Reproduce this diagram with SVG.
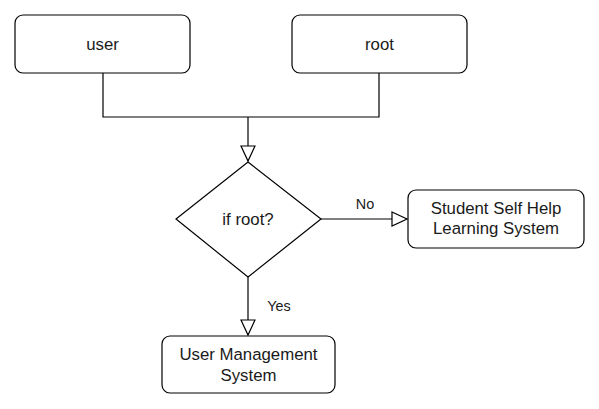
<svg xmlns="http://www.w3.org/2000/svg" width="599" height="409" viewBox="0 0 599 409">
<style>
.box{fill:#fff;stroke:#000;stroke-width:1.2}
.t{font-family:"Liberation Sans",Arial,sans-serif;font-size:16.8px;fill:#1a1a1a;text-anchor:middle}
.l{font-family:"Liberation Sans",Arial,sans-serif;font-size:14.4px;fill:#1a1a1a;text-anchor:middle}
.c{fill:none;stroke:#000;stroke-width:1.2}
</style>
<defs>
<marker id="arr" markerUnits="userSpaceOnUse" markerWidth="20" markerHeight="20" viewBox="-16 -10 20 20" refX="0" refY="0" orient="auto">
<path d="M-15,-7 L0,0 L-15,7 Z" fill="#fff" stroke="#000" stroke-width="1.2"/>
</marker>
</defs>
<rect width="599" height="409" fill="#fff"/>
<g id="connectors">
<path class="c" d="M103,73 V117 H379 V73"/>
<path class="c" d="M248,117 V161" marker-end="url(#arr)"/>
<path class="c" d="M321,219 H407" marker-end="url(#arr)"/>
<text class="l" x="365" y="209">No</text>
<path class="c" d="M248,277 V335" marker-end="url(#arr)"/>
<text class="l" x="279" y="311">Yes</text>
</g>
<g id="user">
<rect class="box" x="15" y="15" width="175" height="58" rx="8"/>
<text class="t" x="102.5" y="50">user</text>
</g>
<g id="root">
<rect class="box" x="292" y="15" width="175" height="58" rx="8"/>
<text class="t" x="379.5" y="50">root</text>
</g>
<g id="decision">
<polygon class="box" points="248,162 321,219 248,277 176,219"/>
<text class="t" x="248" y="225">if root?</text>
</g>
<g id="sshls">
<rect class="box" x="408" y="190" width="176" height="58" rx="8"/>
<text class="t" x="496" y="214">Student Self Help</text>
<text class="t" x="496" y="234">Learning System</text>
</g>
<g id="ums">
<rect class="box" x="162" y="336" width="173" height="57" rx="8"/>
<text class="t" x="248.5" y="360">User Management</text>
<text class="t" x="248.5" y="381">System</text>
</g>
</svg>
